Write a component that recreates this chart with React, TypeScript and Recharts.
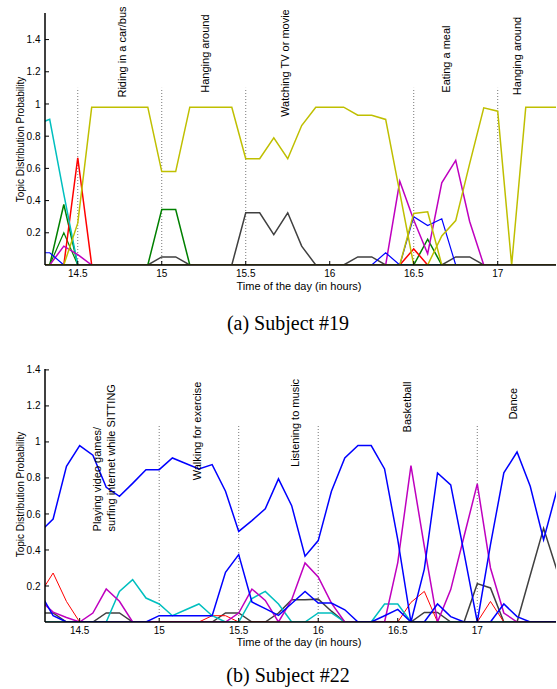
import React from 'react';
import { LineChart, Line, XAxis, YAxis, ReferenceLine, ReferenceDot } from 'recharts';

// time of day (hours), one sample every 5 minutes
const topTimes = [14.25, 14.333, 14.417, 14.5, 14.583, 14.667, 14.75, 14.833, 14.917, 15, 15.083, 15.167, 15.25, 15.333, 15.417, 15.5, 15.583, 15.667, 15.75, 15.833, 15.917, 16, 16.083, 16.167, 16.25, 16.333, 16.417, 16.5, 16.583, 16.667, 16.75, 16.833, 16.917, 17, 17.083, 17.167, 17.25, 17.333, 17.417];
const bottomTimes = [14.25, 14.333, 14.417, 14.5, 14.583, 14.667, 14.75, 14.833, 14.917, 15, 15.083, 15.167, 15.25, 15.333, 15.417, 15.5, 15.583, 15.667, 15.75, 15.833, 15.917, 16, 16.083, 16.167, 16.25, 16.333, 16.417, 16.5, 16.583, 16.667, 16.75, 16.833, 16.917, 17, 17.083, 17.167, 17.25, 17.333, 17.417, 17.5];

// (a) Subject #19
const topYellowA = [0, 0, 0, 0.26, 0.98, 0.98, 0.98, 0.98, 0.98, 0.58, 0.58, 0.98, 0.98, 0.98, 0.98, 0.66, 0.66, 0.79, 0.66, 0.866, 0.98, 0.98, 0.98, 0.93, 0.93, 0.904, 0.45, 0, 0, 0.18, 0.276, 0.63, 0.976, 0.955, 0, 0.98, 0.98, 0.98, 0.98];
const topYellowB = [0, 0, 0, 0, 0, 0, 0, 0, 0, 0, 0, 0, 0, 0, 0, 0, 0, 0, 0, 0, 0, 0, 0, 0, 0, 0, 0, 0.32, 0.33, 0, 0, 0, 0, 0, 0, 0, 0, 0, 0];
const topMagenta = [0, 0, 0.117, 0.065, 0, 0, 0, 0, 0, 0, 0, 0, 0, 0, 0, 0, 0, 0, 0, 0, 0, 0, 0, 0, 0, 0, 0.52, 0.28, 0.07, 0.51, 0.65, 0.27, 0, 0, 0, 0, 0, 0, 0];
const topBlue = [0.076, 0.076, 0, 0, 0, 0, 0, 0, 0, 0, 0, 0, 0, 0, 0, 0, 0, 0, 0, 0, 0, 0, 0, 0, 0, 0.076, 0, 0.3, 0.245, 0.287, 0, 0, 0, 0, 0, 0, 0, 0, 0];
const topRed = [0, 0, 0, 0.666, 0, 0, 0, 0, 0, 0, 0, 0, 0, 0, 0, 0, 0, 0, 0, 0, 0, 0, 0, 0, 0, 0, 0, 0.1, 0, 0, 0, 0, 0, 0, 0, 0, 0, 0, 0];
const topGreenA = [0, 0, 0.376, 0, 0, 0, 0, 0, 0, 0.345, 0.345, 0, 0, 0, 0, 0, 0, 0, 0, 0, 0, 0, 0, 0, 0, 0, 0, 0, 0.16, 0, 0, 0, 0, 0, 0, 0, 0, 0, 0];
const topGreenB = [0, 0, 0.2, 0, 0, 0, 0, 0, 0, 0, 0, 0, 0, 0, 0, 0, 0, 0, 0, 0, 0, 0, 0, 0, 0, 0, 0, 0, 0, 0, 0, 0, 0, 0, 0, 0, 0, 0, 0];
const topCyan = [0.87, 0.905, 0.44, 0, 0, 0, 0, 0, 0, 0, 0, 0, 0, 0, 0, 0, 0, 0, 0, 0, 0, 0, 0, 0, 0, 0, 0, 0, 0, 0, 0, 0, 0, 0, 0, 0, 0, 0, 0];
const topGray = [0, 0, 0, 0, 0, 0, 0, 0, 0, 0.05, 0.05, 0, 0, 0, 0, 0.324, 0.324, 0.188, 0.324, 0.117, 0, 0, 0, 0.05, 0.05, 0, 0, 0, 0, 0, 0.05, 0.05, 0, 0, 0, 0, 0, 0, 0];

// (b) Subject #22
const botBlueMain = [0.5, 0.572, 0.864, 0.98, 0.926, 0.748, 0.698, 0.77, 0.846, 0.846, 0.911, 0.88, 0.85, 0.874, 0.726, 0.503, 0.563, 0.628, 0.795, 0.646, 0.365, 0.452, 0.726, 0.911, 0.98, 0.98, 0.85, 0.457, 0, 0.294, 0.828, 0.761, 0.383, 0, 0.43, 0.828, 0.944, 0.754, 0.457, 0.73];
const botBlueLow = [0.163, 0.035, 0, 0, 0, 0, 0, 0, 0, 0.035, 0.035, 0.035, 0.035, 0.035, 0.276, 0.374, 0.111, 0.074, 0.037, 0.103, 0.17, 0.105, 0.105, 0.068, 0, 0, 0.035, 0.07, 0, 0, 0.1, 0.03, 0, 0, 0, 0.1, 0.03, 0, 0, 0];
const botCyan = [0, 0, 0, 0, 0, 0, 0.17, 0.235, 0.133, 0.1, 0.035, 0.068, 0.1, 0.035, 0, 0, 0.13, 0.17, 0.1, 0, 0, 0.05, 0.05, 0, 0, 0, 0.1, 0.1, 0, 0, 0, 0, 0, 0, 0, 0, 0, 0, 0, 0];
const botMagenta = [0.121, 0.055, 0.025, 0, 0.05, 0.183, 0.115, 0, 0, 0, 0, 0, 0, 0, 0, 0.05, 0.183, 0.12, 0, 0.124, 0.328, 0.25, 0.105, 0, 0, 0, 0, 0.33, 0.868, 0.42, 0, 0.18, 0.476, 0.767, 0.3, 0.05, 0, 0, 0, 0];
const botRed = [0.156, 0.272, 0.114, 0, 0, 0, 0, 0, 0, 0, 0, 0, 0, 0.035, 0.035, 0, 0, 0, 0, 0, 0, 0, 0, 0, 0, 0, 0, 0, 0.109, 0.17, 0, 0, 0, 0, 0.114, 0, 0, 0, 0, 0];
const botGray = [0.05, 0.05, 0, 0, 0, 0.05, 0.05, 0, 0, 0, 0, 0, 0, 0, 0.05, 0.05, 0, 0, 0.05, 0.124, 0.124, 0.127, 0.06, 0, 0, 0, 0, 0, 0, 0.053, 0.053, 0, 0, 0.213, 0.189, 0, 0, 0.26, 0.52, 0.29];

const xTicks = [14.5, 15, 15.5, 16, 16.5, 17];
const yTicks = [0.2, 0.4, 0.6, 0.8, 1, 1.2, 1.4];

const topMarkers = [14.5, 15, 15.5, 16.5, 17];
const bottomMarkers = [15, 15.5, 16, 17];

const topActivities = [
  { t: 14.762, y: 1.04, text: 'Riding in a car/bus' },
  { t: 15.258, y: 1.07, text: 'Hanging around' },
  { t: 15.734, y: 0.92, text: 'Watching TV or movie' },
  { t: 16.696, y: 1.07, text: 'Eating a meal' },
  { t: 17.113, y: 1.055, text: 'Hanging around' },
];
const bottomActivities = [
  { t: 14.607, y: 0.503, text: 'Playing video games/' },
  { t: 14.701, y: 0.503, text: 'surfing internet while SITTING' },
  { t: 15.237, y: 0.787, text: 'Walking for exercise' },
  { t: 15.854, y: 0.861, text: 'Listening to music' },
  { t: 16.557, y: 1.053, text: 'Basketball' },
  { t: 17.226, y: 1.124, text: 'Dance' },
];

const C = {
  blue: '#0000ff',
  green: '#008000',
  red: '#ff0000',
  cyan: '#00bfbf',
  magenta: '#bf00bf',
  yellow: '#bfbf00',
  gray: '#404040',
};

const FONT = '"Liberation Sans", Arial, Helvetica, sans-serif';

const topData = topTimes.map((t, i) => ({
  t,
  gray: topGray[i], greenA: topGreenA[i], greenB: topGreenB[i], red: topRed[i], cyan: topCyan[i],
  magenta: topMagenta[i], blue: topBlue[i], yellowB: topYellowB[i], yellowA: topYellowA[i],
}));

const bottomData = bottomTimes.map((t, i) => ({
  t,
  gray: botGray[i], red: botRed[i], cyan: botCyan[i], magenta: botMagenta[i],
  blueLow: botBlueLow[i], blueMain: botBlueMain[i],
}));

const activityShape = (text: string) => (p: any) => (
  <text
    x={p.cx}
    y={p.cy}
    dy="0.35em"
    transform={`rotate(-90 ${p.cx} ${p.cy})`}
    textAnchor="start"
    fontSize={11}
    fontFamily={FONT}
    fill="#000"
  >
    {text}
  </text>
);

const tickStyle = { fontSize: 10, fill: '#000', fontFamily: FONT };
const axisLine = { stroke: '#000', strokeWidth: 1.5 };
const tickLine = { stroke: '#000' };

interface PanelProps {
  data: any[];
  xDomain: [number, number];
  yMax: number;
  markers: number[];
  markerTop: number;
  activities: { t: number; y: number; text: string }[];
  series: { key: string; color: string; width: number }[];
  height: number;
}

const Panel: React.FC<PanelProps> = ({ data, xDomain, yMax, markers, markerTop, activities, series, height }) => (
  <LineChart width={557} height={height} data={data} margin={{ top: 13, right: 1, bottom: 0, left: 0 }}>
    <XAxis
      dataKey="t"
      type="number"
      domain={xDomain}
      allowDataOverflow
      ticks={xTicks}
      interval={0}
      tickFormatter={(v) => String(v)}
      height={35}
      tickSize={-4}
      tickMargin={9}
      axisLine={axisLine}
      tickLine={tickLine}
      tick={tickStyle}
    />
    <XAxis
      xAxisId="top"
      orientation="top"
      type="number"
      domain={xDomain}
      allowDataOverflow
      ticks={xTicks}
      interval={0}
      height={0}
      tickSize={-4}
      axisLine={axisLine}
      tickLine={tickLine}
      tick={false}
    />
    <YAxis
      type="number"
      domain={[0, yMax]}
      allowDataOverflow
      ticks={yTicks}
      interval={0}
      tickFormatter={(v) => String(v)}
      width={45}
      tickSize={-4}
      tickMargin={8.5}
      axisLine={axisLine}
      tickLine={tickLine}
      tick={tickStyle}
    />
    <YAxis
      yAxisId="right"
      orientation="right"
      type="number"
      domain={[0, yMax]}
      allowDataOverflow
      ticks={yTicks}
      interval={0}
      width={0}
      tickSize={-4}
      axisLine={axisLine}
      tickLine={tickLine}
      tick={false}
    />
    {markers.map((m) => (
      <ReferenceLine
        key={'m' + m}
        segment={[{ x: m, y: 0 }, { x: m, y: markerTop }]}
        stroke="#777"
        strokeWidth={1}
        strokeDasharray="1 2"
      />
    ))}
    {activities.map((a, i) => (
      <ReferenceDot key={'a' + i} x={a.t} y={a.y} r={0} ifOverflow="visible" shape={activityShape(a.text)} />
    ))}
    {series.map((s) => (
      <Line
        key={s.key}
        type="linear"
        dataKey={s.key}
        stroke={s.color}
        strokeWidth={s.width}
        dot={false}
        activeDot={false}
        isAnimationActive={false}
      />
    ))}
  </LineChart>
);

const topSeries = [
  { key: 'gray', color: C.gray, width: 1.5 },
  { key: 'greenA', color: C.green, width: 1.5 },
  { key: 'greenB', color: C.green, width: 1.2 },
  { key: 'red', color: C.red, width: 1.5 },
  { key: 'cyan', color: C.cyan, width: 1.5 },
  { key: 'magenta', color: C.magenta, width: 1.5 },
  { key: 'blue', color: C.blue, width: 1.2 },
  { key: 'yellowB', color: C.yellow, width: 1.5 },
  { key: 'yellowA', color: C.yellow, width: 1.5 },
];

const bottomSeries = [
  { key: 'gray', color: C.gray, width: 1.5 },
  { key: 'red', color: C.red, width: 1 },
  { key: 'cyan', color: C.cyan, width: 1.5 },
  { key: 'magenta', color: C.magenta, width: 1.5 },
  { key: 'blueLow', color: C.blue, width: 1.5 },
  { key: 'blueMain', color: C.blue, width: 1.5 },
];

export default function App() {
  return (
    <div style={{ position: 'absolute', left: 0, top: 0, width: 557, height: 689, background: '#fff', fontFamily: FONT }}>
      <div style={{ position: 'absolute', left: 0, top: 0 }}>
        <Panel
          data={topData}
          xDomain={[14.305, 17.347]}
          yMax={1.565}
          markers={topMarkers}
          markerTop={1.1}
          activities={topActivities}
          series={topSeries}
          height={300}
        />
      </div>
      <div style={{ position: 'absolute', left: 0, top: 356 }}>
        <Panel
          data={bottomData}
          xDomain={[14.282, 17.495]}
          yMax={1.405}
          markers={bottomMarkers}
          markerTop={1.09}
          activities={bottomActivities}
          series={bottomSeries}
          height={301}
        />
      </div>
      <svg width={557} height={689} style={{ position: 'absolute', left: 0, top: 0, pointerEvents: 'none' }}>
        <text x={20} y={139.5} dy="0.35em" transform="rotate(-90 20 139.5)" textAnchor="middle" fontSize={10} fontFamily={FONT} fill="#000">
          Topic Distribution Probability
        </text>
        <text x={299} y={290} textAnchor="middle" fontSize={11} fontFamily={FONT} fill="#000">
          Time of the day (in hours)
        </text>
        <text x={288} y={330} textAnchor="middle" fontSize={20} fontFamily='"Liberation Serif", "Times New Roman", serif' fill="#000">
          (a) Subject #19
        </text>
        <text x={20} y={494.5} dy="0.35em" transform="rotate(-90 20 494.5)" textAnchor="middle" fontSize={10} fontFamily={FONT} fill="#000">
          Topic Distribution Probability
        </text>
        <text x={299} y={645.5} textAnchor="middle" fontSize={11} fontFamily={FONT} fill="#000">
          Time of the day (in hours)
        </text>
        <text x={288} y={682} textAnchor="middle" fontSize={20} fontFamily='"Liberation Serif", "Times New Roman", serif' fill="#000">
          (b) Subject #22
        </text>
      </svg>
    </div>
  );
}
